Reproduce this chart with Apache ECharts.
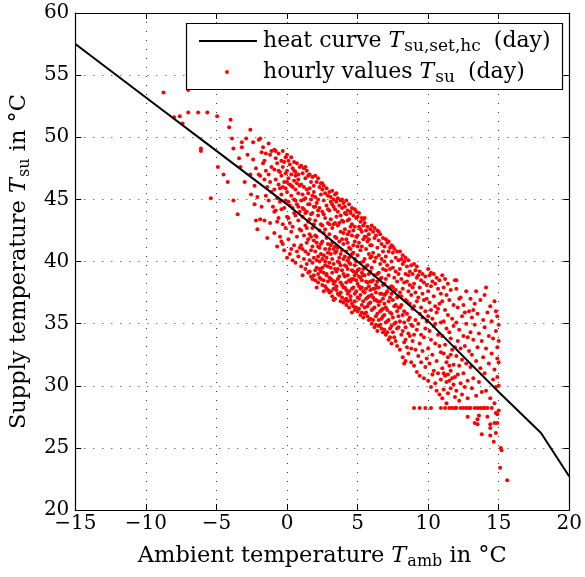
<!DOCTYPE html>
<html>
<head>
<meta charset="utf-8">
<script src="https://cdn.jsdelivr.net/npm/echarts@6/dist/echarts.min.js"></script>
<style>
html,body{margin:0;padding:0;background:#fff;}
#chart{width:585px;height:577px;}
</style>
</head>
<body>
<div id="chart"></div>
<script>
// ---- data ----
const xTicks = [-15, -10, -5, 0, 5, 10, 15, 20];
const yTicks = [20, 25, 30, 35, 40, 45, 50, 55, 60];

const heatCurveX = [-15, -10, -5, 0, 5, 10, 15, 18, 20];
const heatCurveY = [57.5, 53.2, 48.9, 44.6, 40.0, 35.2, 29.5, 26.2, 22.7];

const hourlyOutliers = [[-8.75,53.6],[-7.0,53.8],[-8.0,51.6],[-7.6,51.7],[-7.4,51.1],[-7.0,52.0],[-6.3,52.0],[-5.65,52.0],[-4.95,51.7],[-4.0,51.4],[-4.1,50.8],[-6.1,49.1],[-6.1,48.9],[-3.9,49.9],[-3.8,49.1],[-3.2,49.6],[-3.2,49.2],[-2.9,49.9],[-4.9,47.6],[-4.5,47.0],[-4.2,46.4],[-5.4,45.1],[-3.8,44.9],[-3.5,43.8],[-2.6,50.6],[-2.6,47.0],[-3.4,48.3],[-3.0,46.4],[-2.8,48.6],[-3.3,47.6],[-2.55,45.4]];

const hourlyCold = [[-2.4,48.2],[-2.3,46.1],[-2.2,43.3],[-2.1,42.6],[-2.4,49.6],[-2.2,47.5],[-2.1,45.2],[-2.0,49.8],[-2.3,44.6],[-2.0,47.0],
[-1.9,49.9],[-1.8,48.8],[-1.7,47.9],[-1.6,46.6],[-1.5,45.3],[-1.4,41.9],[-1.9,46.9],[-1.8,44.4],[-1.7,49.2],[-1.6,48.1],[-1.5,47.3],[-1.4,46.0],[-1.3,49.5],[-1.3,44.9],[-1.2,48.6],[-1.2,43.1],[-1.1,47.6],[-1.1,45.6],[-1.9,43.4],[-1.6,43.3],[-1.5,48.7],[-1.3,47.0],[-1.2,46.4],[-1.1,48.9],[-1.0,44.4],
[-0.9,49.0],[-0.9,47.4],[-0.9,45.8],[-0.9,42.3],[-0.8,48.3],[-0.8,46.6],[-0.8,44.1],[-0.7,41.2],[-0.7,47.9],[-0.7,45.1],[-0.6,48.7],[-0.6,46.2],[-0.6,43.5],[-0.5,47.2],[-0.5,44.8],[-0.5,42.0],[-0.4,48.1],[-0.4,46.9],[-0.4,45.4],[-0.4,41.6],[-0.3,48.9],[-0.3,47.6],[-0.3,43.0],[-0.2,46.4],[-0.2,44.3],[-0.2,40.9],[-0.1,48.4],[-0.1,47.1],[-0.1,45.9],[-0.1,42.7],[-0.8,48.9],[-0.6,47.3],[-0.5,45.9],[-0.3,46.0],[-0.2,48.0],[-0.9,44.0],[-0.7,43.2],[-0.4,44.2],[-0.1,44.9],[-0.3,41.4]];

const hourlyBand0to3 = [[0.0,48.6],[0.0,47.3],[0.0,45.6],[0.0,43.6],[0.0,40.3],[0.1,48.1],[0.1,46.7],[0.1,44.8],[0.1,41.8],[0.2,47.8],[0.2,46.2],[0.2,43.1],[0.2,40.6],[0.3,48.4],[0.3,47.0],[0.3,45.3],[0.3,42.4],[0.4,47.5],[0.4,46.0],[0.4,44.3],[0.4,40.1],[0.5,48.0],[0.5,46.5],[0.5,45.0],[0.5,41.3],[0.6,47.2],[0.6,45.8],[0.6,43.7],[0.6,39.9],[0.7,47.9],[0.7,46.3],[0.7,44.6],[0.7,42.0],[0.8,47.0],[0.8,45.5],[0.8,43.3],[0.8,40.4],[0.9,47.6],[0.9,46.1],[0.9,44.0],[0.9,41.1],[0.0,46.4],[0.2,44.5],[0.3,41.0],[0.5,43.9],[0.6,46.9],[0.7,40.8],[0.8,46.6],[0.9,42.6],[0.1,43.5],[0.4,42.8],[0.6,44.9],[0.3,46.1],[0.8,44.4],[0.5,47.3],
[1.0,47.7],[1.0,46.2],[1.0,44.9],[1.0,42.5],[1.0,39.6],[1.1,47.1],[1.1,45.4],[1.1,43.6],[1.1,41.0],[1.2,47.5],[1.2,46.0],[1.2,44.2],[1.2,40.2],[1.3,46.7],[1.3,45.1],[1.3,42.9],[1.3,39.4],[1.4,47.3],[1.4,45.8],[1.4,44.0],[1.4,41.5],[1.5,46.9],[1.5,45.5],[1.5,43.2],[1.5,40.6],[1.6,47.0],[1.6,44.6],[1.6,42.2],[1.6,39.2],[1.7,46.4],[1.7,45.0],[1.7,43.8],[1.7,40.9],[1.8,46.8],[1.8,45.3],[1.8,42.7],[1.8,39.9],[1.9,46.1],[1.9,44.4],[1.9,41.7],[1.9,38.9],[1.1,38.9],[1.2,42.1],[1.3,47.6],[1.4,39.8],[1.5,41.8],[1.6,45.9],[1.7,38.8],[1.8,43.9],[1.9,40.3],[1.0,41.3],[1.2,45.0],[1.3,40.8],[1.5,44.6],[1.6,40.1],[1.7,42.0],[1.8,41.2],[1.9,45.6],[1.4,42.7],[1.1,44.3],[1.3,43.9],[1.6,43.4],[1.8,38.6],[1.9,43.0],[1.5,39.1],
[2.0,46.9],[2.0,45.2],[2.0,43.3],[2.0,40.8],[2.0,38.5],[2.1,46.4],[2.1,44.7],[2.1,42.0],[2.1,39.5],[2.2,46.7],[2.2,45.0],[2.2,43.7],[2.2,41.2],[2.2,38.3],[2.3,46.0],[2.3,44.3],[2.3,42.5],[2.3,40.0],[2.4,46.3],[2.4,45.4],[2.4,43.0],[2.4,39.2],[2.5,45.8],[2.5,44.0],[2.5,41.6],[2.5,38.1],[2.6,46.1],[2.6,44.9],[2.6,42.3],[2.6,40.5],[2.7,45.5],[2.7,43.5],[2.7,39.7],[2.7,38.0],[2.8,45.9],[2.8,44.5],[2.8,41.9],[2.8,39.0],[2.9,45.3],[2.9,43.1],[2.9,40.7],[2.9,37.7],[2.0,42.1],[2.1,37.9],[2.2,40.4],[2.3,38.7],[2.4,41.4],[2.5,39.5],[2.6,37.6],[2.7,41.0],[2.8,37.8],[2.9,39.6],[2.0,39.3],[2.1,41.5],[2.2,39.0],[2.3,41.1],[2.4,38.6],[2.5,40.2],[2.6,39.1],[2.7,42.6],[2.8,40.3],[2.9,38.4],[2.1,40.1],[2.3,39.4],[2.5,42.9],[2.7,40.0],[2.9,41.4],[2.4,40.6],[2.6,38.5],[2.8,38.9],[2.2,44.1],[2.5,46.3],[2.0,44.4],[2.6,43.8],[2.9,44.2]];

const hourlyBand3to6 = [[3.0,45.6],[3.0,44.1],[3.0,42.2],[3.0,39.9],[3.0,37.5],[3.1,45.2],[3.1,43.4],[3.1,41.3],[3.1,38.6],[3.2,45.7],[3.2,44.6],[3.2,42.7],[3.2,40.2],[3.2,37.2],[3.3,45.0],[3.3,43.0],[3.3,41.0],[3.3,38.2],[3.4,45.4],[3.4,44.2],[3.4,42.0],[3.4,39.4],[3.4,37.0],[3.5,44.8],[3.5,43.6],[3.5,40.8],[3.5,38.0],[3.6,45.1],[3.6,42.9],[3.6,40.0],[3.6,37.4],[3.7,44.5],[3.7,43.1],[3.7,41.6],[3.7,38.8],[3.8,44.9],[3.8,42.4],[3.8,39.7],[3.8,36.8],[3.9,44.3],[3.9,43.3],[3.9,40.9],[3.9,38.1],[3.0,41.0],[3.1,39.5],[3.2,38.5],[3.3,39.8],[3.4,38.4],[3.5,39.2],[3.6,38.6],[3.7,37.3],[3.8,38.3],[3.9,39.3],[3.0,38.7],[3.1,37.6],[3.2,39.1],[3.3,37.8],[3.4,40.7],[3.5,37.7],[3.6,39.4],[3.7,40.3],[3.8,37.5],[3.9,37.1],[3.1,40.6],[3.3,36.9],[3.5,41.9],[3.7,39.9],[3.9,41.8],[3.2,41.5],[3.4,41.2],[3.6,41.1],[3.8,40.6],[3.0,43.0],[3.5,45.5],[3.8,43.7],[3.1,44.8],[3.3,44.4],[3.6,44.0],[3.9,45.0],[3.4,43.1],
[4.0,44.7],[4.0,43.2],[4.0,41.4],[4.0,39.0],[4.0,36.7],[4.1,44.4],[4.1,42.6],[4.1,40.4],[4.1,37.9],[4.2,44.9],[4.2,43.8],[4.2,41.8],[4.2,39.6],[4.2,36.5],[4.3,44.1],[4.3,42.2],[4.3,40.1],[4.3,37.4],[4.4,44.6],[4.4,43.4],[4.4,41.1],[4.4,38.5],[4.4,36.3],[4.5,44.0],[4.5,42.8],[4.5,39.8],[4.5,37.2],[4.6,44.3],[4.6,42.1],[4.6,39.3],[4.6,36.6],[4.7,43.7],[4.7,42.5],[4.7,40.7],[4.7,37.9],[4.8,44.2],[4.8,41.6],[4.8,38.9],[4.8,36.1],[4.9,43.5],[4.9,42.0],[4.9,40.0],[4.9,37.6],[4.0,40.2],[4.1,38.8],[4.2,37.7],[4.3,38.9],[4.4,37.6],[4.5,38.4],[4.6,37.8],[4.7,36.4],[4.8,37.4],[4.9,38.5],[4.0,37.9],[4.1,36.9],[4.2,38.3],[4.3,36.8],[4.4,39.9],[4.5,36.9],[4.6,38.6],[4.7,39.2],[4.8,36.8],[4.9,36.3],[4.1,39.7],[4.3,39.4],[4.5,41.0],[4.7,38.6],[4.9,39.1],[4.2,40.8],[4.4,40.3],[4.6,40.6],[4.8,39.7],[4.0,42.3],[4.5,43.9],[4.8,42.8],[4.1,43.9],[4.3,43.3],[4.6,43.0],[4.9,44.0],[4.4,42.4],[4.2,37.0],[4.6,35.9],[4.8,40.2],[4.3,41.5],[4.7,41.3],
[5.0,43.6],[5.0,42.1],[5.0,40.5],[5.0,38.2],[5.0,36.0],[5.1,43.9],[5.1,41.5],[5.1,39.4],[5.1,37.0],[5.2,43.2],[5.2,42.6],[5.2,40.9],[5.2,38.7],[5.2,35.7],[5.3,43.5],[5.3,41.2],[5.3,39.1],[5.3,36.5],[5.4,42.9],[5.4,41.8],[5.4,40.0],[5.4,37.6],[5.4,35.5],[5.5,43.1],[5.5,42.0],[5.5,38.9],[5.5,36.3],[5.6,42.5],[5.6,41.0],[5.6,38.4],[5.6,35.9],[5.7,42.8],[5.7,41.6],[5.7,39.7],[5.7,37.1],[5.8,42.2],[5.8,40.6],[5.8,38.0],[5.8,35.3],[5.9,42.6],[5.9,41.3],[5.9,39.2],[5.9,36.7],[5.0,39.3],[5.1,38.0],[5.2,37.3],[5.3,37.9],[5.4,36.8],[5.5,37.5],[5.6,37.0],[5.7,35.6],[5.8,36.6],[5.9,37.7],[5.0,37.1],[5.1,36.2],[5.2,37.8],[5.3,35.9],[5.4,38.9],[5.5,35.8],[5.6,37.8],[5.7,38.3],[5.8,37.2],[5.9,35.4],[5.1,38.8],[5.3,38.5],[5.5,40.2],[5.7,36.4],[5.9,38.4],[5.2,39.9],[5.4,39.4],[5.6,39.6],[5.8,39.0],[5.0,41.2],[5.5,43.5],[5.8,41.8],[5.1,42.8],[5.3,42.4],[5.6,42.0],[5.9,40.3],[5.4,43.4]];

const hourlyBand6to9 = [[6.0,42.9],[6.0,41.3],[6.0,39.5],[6.0,37.3],[6.0,35.0],[6.1,42.4],[6.1,40.7],[6.1,38.5],[6.1,36.2],[6.2,42.7],[6.2,41.9],[6.2,40.0],[6.2,37.8],[6.2,34.7],[6.3,42.1],[6.3,40.3],[6.3,38.1],[6.3,35.6],[6.4,42.5],[6.4,41.1],[6.4,39.0],[6.4,36.8],[6.4,34.4],[6.5,41.7],[6.5,40.5],[6.5,37.9],[6.5,35.3],[6.6,42.2],[6.6,39.8],[6.6,37.4],[6.6,34.9],[6.7,41.4],[6.7,40.2],[6.7,38.7],[6.7,36.1],[6.8,41.9],[6.8,39.4],[6.8,37.0],[6.8,34.3],[6.9,41.2],[6.9,40.0],[6.9,38.2],[6.9,35.7],[6.0,38.4],[6.1,37.1],[6.2,36.3],[6.3,36.9],[6.4,35.8],[6.5,36.5],[6.6,36.0],[6.7,34.6],[6.8,35.6],[6.9,36.6],[6.0,36.1],[6.1,35.3],[6.2,36.9],[6.3,34.9],[6.4,37.9],[6.5,34.8],[6.6,36.8],[6.7,37.4],[6.8,36.2],[6.9,34.5],[6.1,37.8],[6.3,37.5],[6.5,39.1],[6.7,35.4],[6.9,37.3],[6.2,38.9],[6.4,38.4],[6.6,38.6],[6.8,38.1],[6.0,40.4],[6.5,42.4],[6.8,40.8],
[7.0,41.8],[7.0,40.4],[7.0,38.6],[7.0,36.3],[7.0,34.1],[7.1,41.5],[7.1,39.7],[7.1,37.6],[7.1,35.2],[7.2,41.6],[7.2,40.8],[7.2,38.9],[7.2,36.8],[7.2,33.7],[7.3,41.1],[7.3,39.4],[7.3,37.1],[7.3,34.6],[7.4,41.3],[7.4,40.0],[7.4,38.0],[7.4,35.8],[7.4,33.4],[7.5,40.7],[7.5,39.5],[7.5,36.9],[7.5,34.3],[7.6,41.0],[7.6,38.7],[7.6,36.4],[7.6,33.9],[7.7,40.3],[7.7,39.2],[7.7,37.7],[7.7,35.1],[7.8,40.8],[7.8,38.4],[7.8,36.0],[7.8,33.2],[7.9,40.1],[7.9,39.0],[7.9,37.2],[7.9,34.7],[7.0,37.4],[7.1,36.1],[7.2,35.3],[7.3,35.9],[7.4,34.8],[7.5,35.5],[7.6,35.0],[7.7,33.6],[7.8,34.6],[7.9,35.6],[7.0,35.1],[7.1,34.3],[7.3,33.9],[7.5,37.9],[7.7,36.5],[7.9,36.3],[7.2,37.9],[7.4,37.4],[7.6,37.6],[7.8,37.1],[7.0,39.3],[7.5,41.2],
[8.0,40.8],[8.0,39.4],[8.0,37.5],[8.0,35.2],[8.0,32.9],[8.1,40.2],[8.1,38.6],[8.1,36.5],[8.1,34.1],[8.2,40.5],[8.2,39.8],[8.2,37.8],[8.2,35.7],[8.2,32.3],[8.3,40.0],[8.3,38.3],[8.3,36.0],[8.3,33.5],[8.4,40.3],[8.4,39.0],[8.4,36.9],[8.4,34.7],[8.4,32.0],[8.5,39.6],[8.5,38.4],[8.5,35.8],[8.5,33.1],[8.6,40.1],[8.6,37.6],[8.6,35.3],[8.6,32.6],[8.7,39.2],[8.7,38.1],[8.7,36.6],[8.7,34.0],[8.8,39.7],[8.8,37.3],[8.8,34.9],[8.8,31.9],[8.9,39.0],[8.9,37.9],[8.9,36.2],[8.9,33.6],[8.0,36.3],[8.2,34.4],[8.4,33.7],[8.6,34.2],[8.8,33.0],[8.1,37.2],[8.3,35.1],[8.5,36.8],[8.7,35.5],[8.9,34.8],[8.3,31.8],[8.6,38.9]];

const hourlyBand9to12 = [[9.0,39.8],[9.0,38.2],[9.0,36.4],[9.0,34.1],[9.0,31.6],[9.1,39.3],[9.1,37.5],[9.1,35.3],[9.1,32.9],[9.2,39.6],[9.2,38.7],[9.2,36.8],[9.2,34.5],[9.2,31.1],[9.3,38.9],[9.3,37.1],[9.3,35.0],[9.3,32.4],[9.4,39.2],[9.4,37.9],[9.4,35.8],[9.4,33.4],[9.4,30.8],[9.5,38.5],[9.5,36.3],[9.5,34.1],[9.5,31.9],[9.6,39.0],[9.6,37.4],[9.6,35.5],[9.6,32.8],[9.7,38.3],[9.7,36.9],[9.7,33.9],[9.7,30.6],[9.8,38.8],[9.8,36.0],[9.8,34.6],[9.8,31.5],[9.9,38.1],[9.9,37.0],[9.9,35.2],[9.9,32.2],[9.0,28.2],[9.4,28.2],[9.8,28.2],
[10.0,39.4],[10.0,37.6],[10.0,35.6],[10.0,33.0],[10.0,30.4],[10.1,38.9],[10.1,36.7],[10.1,34.4],[10.1,31.8],[10.2,39.1],[10.2,38.0],[10.2,36.1],[10.2,33.7],[10.2,29.9],[10.2,28.2],[10.3,38.4],[10.3,35.4],[10.3,32.5],[10.4,39.0],[10.4,37.2],[10.4,34.8],[10.4,31.2],[10.5,38.2],[10.5,36.4],[10.5,33.4],[10.5,30.2],[10.6,38.7],[10.6,35.9],[10.6,32.0],[10.6,29.6],[10.7,37.8],[10.7,34.1],[10.7,31.0],[10.8,38.5],[10.8,36.6],[10.8,33.2],[10.8,29.3],[10.9,37.4],[10.9,35.1],[10.9,32.7],[10.9,30.5],[10.9,28.2],[10.3,30.9],[10.7,36.2],[10.5,35.0],
[11.0,38.9],[11.0,36.8],[11.0,34.0],[11.0,31.4],[11.0,29.0],[11.1,37.9],[11.1,35.2],[11.1,32.6],[11.1,29.7],[11.2,38.6],[11.2,36.1],[11.2,33.3],[11.2,30.8],[11.3,37.3],[11.3,34.6],[11.3,31.9],[11.3,28.6],[11.4,38.2],[11.4,35.7],[11.4,32.3],[11.4,29.4],[11.5,36.9],[11.5,34.3],[11.5,30.4],[11.5,28.2],[11.6,37.7],[11.6,33.8],[11.6,31.2],[11.7,35.4],[11.7,32.9],[11.7,28.2],[11.8,36.5],[11.8,34.8],[11.8,30.1],[11.9,38.5],[11.9,33.1],[11.9,29.1],[11.9,28.2],[11.6,29.8],[11.2,28.2],[11.3,30.3],[11.5,31.6],[11.7,30.6],[11.8,31.7],[11.4,30.9],[11.6,32.5],[11.9,30.7],[11.1,31.0]];

const hourlyBand12to16 = [[12.0,37.8],[12.0,35.1],[12.0,32.4],[12.0,29.6],[12.0,28.2],[12.1,36.3],[12.1,33.6],[12.1,30.9],[12.2,34.5],[12.2,31.6],[12.2,28.8],[12.3,37.1],[12.3,33.0],[12.3,30.2],[12.3,28.2],[12.4,35.6],[12.4,32.1],[12.4,29.3],[12.5,36.5],[12.5,34.0],[12.5,31.0],[12.5,28.2],[12.6,33.2],[12.6,29.9],[12.7,37.6],[12.7,35.0],[12.7,31.8],[12.7,28.2],[12.8,33.9],[12.8,30.4],[12.9,36.0],[12.9,32.8],[12.9,28.2],[12.8,27.5],[12.6,35.9],[12.2,37.0],[12.8,29.0],[12.0,38.5],
[13.0,37.0],[13.0,34.3],[13.0,31.5],[13.0,28.2],[13.1,35.5],[13.1,32.5],[13.1,29.8],[13.2,33.7],[13.2,30.6],[13.3,36.6],[13.3,34.9],[13.3,28.2],[13.3,27.0],[13.4,37.6],[13.4,32.0],[13.4,29.2],[13.5,35.8],[13.5,33.1],[13.5,26.9],[13.5,28.2],[13.5,27.3],[13.6,34.2],[13.6,30.3],[13.7,36.9],[13.7,31.4],[13.7,28.2],[13.8,33.6],[13.8,26.1],[13.8,29.5],[13.9,35.3],[13.9,32.3],[13.9,28.2],[13.2,36.1],[13.6,27.6],
[14.0,37.3],[14.0,34.7],[14.0,31.0],[14.0,28.2],[14.1,37.9],[14.1,33.0],[14.1,29.6],[14.2,35.9],[14.2,27.5],[14.2,28.2],[14.3,34.0],[14.3,31.8],[14.4,36.4],[14.4,26.9],[14.4,26.6],[14.4,26.0],[14.4,29.0],[14.5,35.2],[14.5,32.6],[14.5,28.2],[14.6,33.8],[14.6,30.5],[14.65,25.5],[14.7,36.8],[14.7,31.3],[14.7,28.6],[14.7,27.0],[14.8,26.2],[14.8,34.4],[14.8,29.9],[14.8,27.8],[14.9,35.6],[14.9,32.2],[14.9,30.7],[14.9,33.1],[14.9,27.7],[14.9,27.0],[15.0,34.9],[15.0,31.9],[15.0,30.0],[15.0,28.0],[15.0,33.6],[14.8,36.0],
[15.15,25.0],[15.2,24.8],[15.1,23.4],[15.6,22.4]];

const hourlyValues = [].concat(hourlyOutliers, hourlyCold, hourlyBand0to3, hourlyBand3to6, hourlyBand6to9, hourlyBand9to12, hourlyBand12to16);

// ---- chart ----
const SERIF = '"DejaVu Serif", "Liberation Serif", serif';
const fmt = v => (v < 0 ? '\u2212' + (-v) : String(v));
function richSet(size, subSize, drop, gap) {
  return {
    r: {fontFamily: SERIF, fontSize: size, color: '#000'},
    i: {fontFamily: SERIF, fontSize: size, fontStyle: 'italic', color: '#000'},
    s: {fontFamily: SERIF, fontSize: subSize, color: '#000', padding: [drop, gap, 0, 1]}
  };
}
const richTitle = richSet(22.5, 16, 11, 0);
const richLegend = richSet(22, 17, 11, 6);
const gridDots = {show: true, lineStyle: {color: '#333', width: 1, type: [1, 8]}};

const xMin = xTicks[0], xMax = xTicks[xTicks.length - 1];
const yMin = yTicks[0], yMax = yTicks[yTicks.length - 1];
const xStep = xTicks[1] - xTicks[0], yStep = yTicks[1] - yTicks[0];

const chart = echarts.init(document.getElementById('chart'), null, {renderer: 'canvas'});
chart.setOption({
  animation: false,
  backgroundColor: '#fff',
  grid: {left: 73, right: 14, top: 13, bottom: 67},
  xAxis: [{
    type: 'value', min: xMin, max: xMax, interval: xStep, position: 'bottom',
    axisLine: {show: true, onZero: false, lineStyle: {color: '#000', width: 1.2}},
    axisTick: {show: true, inside: true, length: 6, lineStyle: {color: '#000'}},
    axisLabel: {formatter: fmt, fontFamily: SERIF, fontSize: 20, color: '#000', margin: 4},
    splitLine: gridDots,
    name: '{r|Ambient temperature }{i|T}{s|amb}{r| in °C}',
    nameLocation: 'middle', nameGap: 33,
    nameTextStyle: {rich: richTitle}
  }, {
    type: 'value', min: xMin, max: xMax, interval: xStep, position: 'top',
    axisLine: {show: true, onZero: false, lineStyle: {color: '#000', width: 1.2}},
    axisTick: {show: true, inside: true, length: 6, lineStyle: {color: '#000'}},
    axisLabel: {show: false}, splitLine: {show: false}
  }],
  yAxis: [{
    type: 'value', min: yMin, max: yMax, interval: yStep, position: 'left',
    axisLine: {show: true, onZero: false, lineStyle: {color: '#000', width: 1.2}},
    axisTick: {show: true, inside: true, length: 6, lineStyle: {color: '#000'}},
    axisLabel: {fontFamily: SERIF, fontSize: 20, color: '#000', margin: 6},
    splitLine: gridDots,
    name: '{r|Supply temperature }{i|T}{s|su}{r| in °C}',
    nameLocation: 'middle', nameGap: 41, nameRotate: 90,
    nameTextStyle: {rich: richTitle}
  }, {
    type: 'value', min: yMin, max: yMax, interval: yStep, position: 'right',
    axisLine: {show: true, onZero: false, lineStyle: {color: '#000', width: 1.2}},
    axisTick: {show: true, inside: true, length: 6, lineStyle: {color: '#000'}},
    axisLabel: {show: false}, splitLine: {show: false}
  }],
  series: [{
    name: 'hourly values', type: 'scatter', data: hourlyValues,
    symbol: 'circle', symbolSize: 4,
    itemStyle: {color: '#ff0000', opacity: 1}, z: 2
  }, {
    name: 'heat curve', type: 'line',
    data: heatCurveX.map((x, k) => [x, heatCurveY[k]]),
    symbol: 'none', lineStyle: {color: '#000', width: 2}, z: 3
  }],
  graphic: [
    {type: 'rect', z: 10, shape: {x: 186.5, y: 23.5, width: 376, height: 66},
     style: {fill: '#fff', stroke: '#000', lineWidth: 1.2}},
    {type: 'line', z: 11, shape: {x1: 199, y1: 41, x2: 257, y2: 41},
     style: {stroke: '#000', lineWidth: 2}},
    {type: 'circle', z: 11, shape: {cx: 227, cy: 72, r: 1.9},
     style: {fill: '#ff0000'}},
    {type: 'text', z: 11, x: 263, y: 41,
     style: {text: '{r|heat curve }{i|T}{s|su,set,hc}{r| (day)}', rich: richLegend, verticalAlign: 'middle', align: 'left'}},
    {type: 'text', z: 11, x: 263, y: 72,
     style: {text: '{r|hourly values }{i|T}{s|su}{r| (day)}', rich: richLegend, verticalAlign: 'middle', align: 'left'}}
  ]
});
</script>
</body>
</html>
